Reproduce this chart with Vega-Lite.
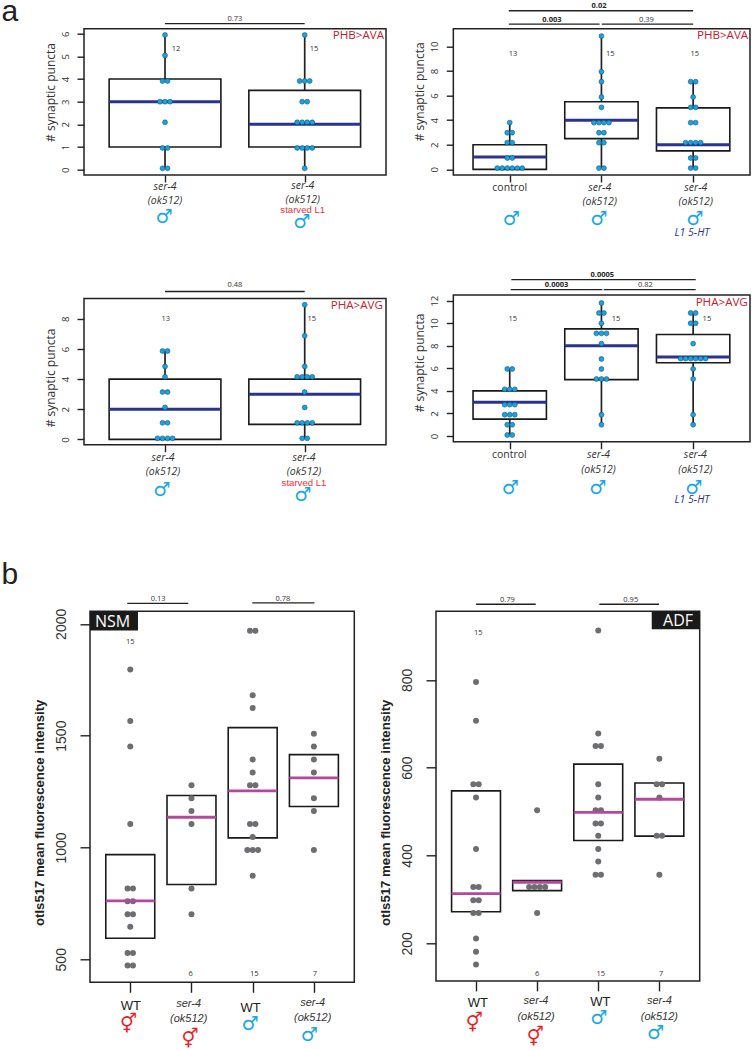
{"$schema":"https://vega.github.io/schema/vega-lite/v6.json","autosize":{"type":"none"},"padding":{"left":84,"top":28.7,"right":670,"bottom":1021.3},"bounds":"flush","align":"each","columns":2,"spacing":{"row":119.3,"column":50},
"config":{"view":{"stroke":null},"axis":{"grid":false,"domain":false,"tickColor":"#222222","tickWidth":1.4,"labelColor":"#333333","titleColor":"#333333"},"axisX":{"labels":false,"title":null},"axisY":{"labelAngle":-90},
"style":{"whisk":{"strokeWidth":1.7},"medA":{"strokeWidth":3},"medB":{"strokeWidth":2.8},"brk":{"strokeWidth":1.3},"cnt":{"font":"Open Sans","fontSize":7.5,"align":"center","baseline":"middle"},"pb":{"font":"Open Sans","fontSize":7.5,"fontWeight":"bold","align":"center","baseline":"middle"},"tag":{"font":"Open Sans","fontSize":11.6,"align":"right","baseline":"middle"},"ita":{"font":"Open Sans","fontSize":10.5,"fontStyle":"italic","align":"center","baseline":"middle"},"upr":{"font":"Open Sans","fontSize":10.5,"align":"center","baseline":"middle"},"male":{"font":"DejaVu Sans","fontSize":19,"align":"center","baseline":"middle"},"stv":{"font":"Liberation Sans","fontSize":9.6,"align":"center","baseline":"middle"},"let":{"font":"Liberation Sans","fontSize":30,"align":"center","baseline":"alphabetic"},"wt":{"font":"Liberation Sans","fontSize":13,"align":"center","baseline":"middle"},"itb":{"font":"Liberation Sans","fontSize":11,"fontStyle":"italic","align":"center","baseline":"middle"},"wht":{"font":"Open Sans","fontSize":16,"align":"center","baseline":"middle"}}},
"concat":[
{"width":302,"height":146.3,"encoding":{"x":{"field":"x","type":"quantitative","scale":{"domain":[0.42,2.582],"nice":false,"zero":false},"axis":{"values":[1,2],"tickSize":7}},"y":{"field":"y","type":"quantitative","scale":{"domain":[-0.234,6.22],"nice":false,"zero":false},"axis":{"values":[0,1,2,3,4,5,6],"tickSize":7,"labelFont":"Open Sans","labelFontSize":9.5,"labelPadding":7,"title":"# synaptic puncta","titleFont":"Open Sans","titleFontSize":12,"titleFontWeight":"normal","titleY":63.3,"titlePadding":3}}},
"layer":[
{"data":{"values":[{"x":0.42,"x2":2.582,"y":-0.234,"y2":6.22}]},"mark":{"type":"rect","fill":"transparent","stroke":"#222222","strokeWidth":1.5},"encoding":{"x2":{"field":"x2"},"y2":{"field":"y2"}}},
{"data":{"values":[{"x":1,"y":4,"y2":5.94},{"x":1,"y":1,"y2":0.06},{"x":2,"y":3.5,"y2":5.94},{"x":2,"y":1,"y2":0.06}]},"mark":{"type":"rule","style":"whisk","color":"#222222"},"encoding":{"y2":{"field":"y2"}}},
{"data":{"values":[{"x":0.6,"x2":1.4,"y":1,"y2":4},{"x":1.6,"x2":2.4,"y":1,"y2":3.5}]},"mark":{"type":"rect","fill":"transparent","stroke":"#1a1a1a","strokeWidth":1.6},"encoding":{"x2":{"field":"x2"},"y2":{"field":"y2"}}},
{"data":{"values":[{"x":0.6,"x2":1.4,"y":3},{"x":1.6,"x2":2.4,"y":2}]},"mark":{"type":"rule","style":"medA","color":"#2b3390"},"encoding":{"x2":{"field":"x2"}}},
{"data":{"values":[{"x":1,"y":5.94},{"x":1,"y":5.04},{"x":0.982,"y":3.91},{"x":1.018,"y":3.91},{"x":0.964,"y":3},{"x":1,"y":3},{"x":1.036,"y":3},{"x":1,"y":2.09},{"x":0.982,"y":0.96},{"x":1.018,"y":0.96},{"x":0.982,"y":0.06},{"x":1.018,"y":0.06},{"x":2,"y":5.94},{"x":1.964,"y":3.91},{"x":2,"y":3.91},{"x":2.036,"y":3.91},{"x":1.982,"y":3},{"x":2.018,"y":3},{"x":1.946,"y":2.09},{"x":1.982,"y":2.09},{"x":2.018,"y":2.09},{"x":2.054,"y":2.09},{"x":1.946,"y":0.96},{"x":1.982,"y":0.96},{"x":2.018,"y":0.96},{"x":2.054,"y":0.96},{"x":2,"y":0.06}]},"mark":{"type":"point","filled":true,"fill":"#14a5e2","stroke":"#1d4f70","strokeWidth":0.6,"opacity":1,"size":24}},
{"data":{"values":[{"x":1,"x2":2,"y":6.44}]},"mark":{"type":"rule","style":"brk","color":"#222222"},"encoding":{"x2":{"field":"x2"}}},
{"data":{"values":[{"x":1.5,"y":6.65,"t":"0.73"},{"x":1.079,"y":5.31,"t":"12"},{"x":2.067,"y":5.31,"t":"15"}]},"mark":{"type":"text","style":"cnt","color":"#333333"},"encoding":{"text":{"field":"t"}}},
{"data":{"values":[{"x":2.568,"y":5.9,"t":"PHB>AVA"}]},"mark":{"type":"text","style":"tag","color":"#c8202f"},"encoding":{"text":{"field":"t"}}},
{"data":{"values":[{"x":1,"y":-0.75,"t":"ser-4"},{"x":1,"y":-1.39,"t":"(ok512)"},{"x":1.986,"y":-0.72,"t":"ser-4"},{"x":1.986,"y":-1.34,"t":"(ok512)"}]},"mark":{"type":"text","style":"ita","color":"#333333"},"encoding":{"text":{"field":"t"}}},
{"data":{"values":[{"x":1.986,"y":-1.78,"t":"starved L1"}]},"mark":{"type":"text","style":"stv","color":"#f0323c"},"encoding":{"text":{"field":"t"}}},
{"data":{"values":[{"x":0.993,"y":-2.09,"t":"♂"},{"x":1.979,"y":-2.32,"t":"♂"}]},"mark":{"type":"text","style":"male","color":"#17a8e3"},"encoding":{"text":{"field":"t"}}},
{"data":{"values":[{"x":-0.11,"y":6.56,"t":"a"}]},"mark":{"type":"text","style":"let","color":"#222222"},"encoding":{"text":{"field":"t"}}}
]},
{"width":314,"height":146.3,"encoding":{"x":{"field":"x","type":"quantitative","scale":{"domain":[0.196,3.62],"nice":false,"zero":false},"axis":{"values":[1,2,3],"tickSize":7}},"y":{"field":"y","type":"quantitative","scale":{"domain":[-0.46,11.44],"nice":false,"zero":false},"axis":{"values":[0,2,4,6,8,10],"offset":-17.3,"tickSize":7,"labelFont":"Open Sans","labelFontSize":9.5,"labelPadding":7,"title":"# synaptic puncta","titleFont":"Open Sans","titleFontSize":12,"titleFontWeight":"normal","titleY":62.6,"titlePadding":3}}},
"layer":[
{"data":{"values":[{"x":0.385,"x2":3.62,"y":-0.46,"y2":11.44}]},"mark":{"type":"rect","fill":"transparent","stroke":"#222222","strokeWidth":1.5},"encoding":{"x2":{"field":"x2"},"y2":{"field":"y2"}}},
{"data":{"values":[{"x":1,"y":2,"y2":3.8},{"x":2,"y":5.5,"y2":10.84},{"x":2,"y":2.5,"y2":0.1},{"x":3,"y":5,"y2":7.13},{"x":3,"y":1.5,"y2":0.1}]},"mark":{"type":"rule","style":"whisk","color":"#222222"},"encoding":{"y2":{"field":"y2"}}},
{"data":{"values":[{"x":0.6,"x2":1.4,"y":0,"y2":2},{"x":1.6,"x2":2.4,"y":2.5,"y2":5.5},{"x":2.6,"x2":3.4,"y":1.5,"y2":5}]},"mark":{"type":"rect","fill":"transparent","stroke":"#1a1a1a","strokeWidth":1.6},"encoding":{"x2":{"field":"x2"},"y2":{"field":"y2"}}},
{"data":{"values":[{"x":0.6,"x2":1.4,"y":1},{"x":1.6,"x2":2.4,"y":4},{"x":2.6,"x2":3.4,"y":2}]},"mark":{"type":"rule","style":"medA","color":"#2b3390"},"encoding":{"x2":{"field":"x2"}}},
{"data":{"values":[{"x":1,"y":3.8},{"x":0.973,"y":2.98},{"x":1.027,"y":2.98},{"x":0.973,"y":2.17},{"x":1.027,"y":2.17},{"x":0.973,"y":0.92},{"x":1.027,"y":0.92},{"x":0.864,"y":0.1},{"x":0.918,"y":0.1},{"x":0.973,"y":0.1},{"x":1.027,"y":0.1},{"x":1.082,"y":0.1},{"x":1.136,"y":0.1},{"x":2,"y":10.84},{"x":2,"y":7.94},{"x":2,"y":7.13},{"x":2,"y":5.88},{"x":2,"y":5.04},{"x":1.918,"y":3.8},{"x":1.973,"y":3.8},{"x":2.027,"y":3.8},{"x":2.082,"y":3.8},{"x":1.973,"y":2.98},{"x":2.027,"y":2.98},{"x":1.973,"y":2.17},{"x":2.027,"y":2.17},{"x":1.973,"y":0.1},{"x":2.027,"y":0.1},{"x":2.973,"y":7.13},{"x":3.027,"y":7.13},{"x":3,"y":5.88},{"x":2.973,"y":5.04},{"x":3.027,"y":5.04},{"x":2.973,"y":3.8},{"x":3.027,"y":3.8},{"x":2.918,"y":2.17},{"x":2.973,"y":2.17},{"x":3.027,"y":2.17},{"x":3.082,"y":2.17},{"x":2.973,"y":0.92},{"x":3.027,"y":0.92},{"x":2.973,"y":0.1},{"x":3.027,"y":0.1}]},"mark":{"type":"point","filled":true,"fill":"#14a5e2","stroke":"#1d4f70","strokeWidth":0.6,"opacity":1,"size":24}},
{"data":{"values":[{"x":0.99,"x2":3,"y":12.9},{"x":0.99,"x2":1.98,"y":11.82},{"x":2.004,"x2":3,"y":11.82}]},"mark":{"type":"rule","style":"brk","color":"#222222"},"encoding":{"x2":{"field":"x2"}}},
{"data":{"values":[{"x":2.49,"y":12.14,"t":"0.39"},{"x":1.036,"y":9.35,"t":"13"},{"x":2.097,"y":9.35,"t":"15"},{"x":3.018,"y":9.35,"t":"15"}]},"mark":{"type":"text","style":"cnt","color":"#333333"},"encoding":{"text":{"field":"t"}}},
{"data":{"values":[{"x":1.974,"y":13.28,"t":"0.02"},{"x":1.46,"y":12.14,"t":"0.003"}]},"mark":{"type":"text","style":"pb","color":"#222222"},"encoding":{"text":{"field":"t"}}},
{"data":{"values":[{"x":3.6,"y":10.84,"t":"PHB>AVA"}]},"mark":{"type":"text","style":"tag","color":"#c8202f"},"encoding":{"text":{"field":"t"}}},
{"data":{"values":[{"x":1,"y":-1.54,"t":"control"}]},"mark":{"type":"text","style":"upr","color":"#333333"},"encoding":{"text":{"field":"t"}}},
{"data":{"values":[{"x":1.981,"y":-1.54,"t":"ser-4"},{"x":1.981,"y":-2.68,"t":"(ok512)"},{"x":3.028,"y":-1.54,"t":"ser-4"},{"x":3.028,"y":-2.68,"t":"(ok512)"}]},"mark":{"type":"text","style":"ita","color":"#333333"},"encoding":{"text":{"field":"t"}}},
{"data":{"values":[{"x":2.988,"y":-5.15,"t":"L1 5-HT"}]},"mark":{"type":"text","style":"ita","color":"#2e3192"},"encoding":{"text":{"field":"t"}}},
{"data":{"values":[{"x":1.017,"y":-4.07,"t":"♂"},{"x":1.97,"y":-4.07,"t":"♂"},{"x":3.018,"y":-4.07,"t":"♂"}]},"mark":{"type":"text","style":"male","color":"#17a8e3"},"encoding":{"text":{"field":"t"}}}
]},
{"width":302,"height":149.7,"encoding":{"x":{"field":"x","type":"quantitative","scale":{"domain":[0.42,2.582],"nice":false,"zero":false},"axis":{"values":[1,2],"tickSize":7}},"y":{"field":"y","type":"quantitative","scale":{"domain":[-0.35,9.577],"nice":false,"zero":false},"axis":{"values":[0,2,4,6,8],"tickSize":7,"labelFont":"Open Sans","labelFontSize":9.5,"labelPadding":7,"title":"# synaptic puncta","titleFont":"Open Sans","titleFontSize":12,"titleFontWeight":"normal","titleY":82.4,"titlePadding":3}}},
"layer":[
{"data":{"values":[{"x":0.42,"x2":2.582,"y":-0.35,"y2":9.35}]},"mark":{"type":"rect","fill":"transparent","stroke":"#222222","strokeWidth":1.5},"encoding":{"x2":{"field":"x2"},"y2":{"field":"y2"}}},
{"data":{"values":[{"x":1,"y":4,"y2":5.86},{"x":2,"y":4,"y2":8.93},{"x":2,"y":1,"y2":0.07}]},"mark":{"type":"rule","style":"whisk","color":"#222222"},"encoding":{"y2":{"field":"y2"}}},
{"data":{"values":[{"x":0.6,"x2":1.4,"y":0,"y2":4},{"x":1.6,"x2":2.4,"y":1,"y2":4}]},"mark":{"type":"rect","fill":"transparent","stroke":"#1a1a1a","strokeWidth":1.6},"encoding":{"x2":{"field":"x2"},"y2":{"field":"y2"}}},
{"data":{"values":[{"x":0.6,"x2":1.4,"y":2},{"x":1.6,"x2":2.4,"y":3}]},"mark":{"type":"rule","style":"medA","color":"#2b3390"},"encoding":{"x2":{"field":"x2"}}},
{"data":{"values":[{"x":0.982,"y":5.86},{"x":1.018,"y":5.86},{"x":1,"y":4.84},{"x":1,"y":4.15},{"x":0.982,"y":3.14},{"x":1.018,"y":3.14},{"x":1,"y":2.12},{"x":0.982,"y":1.1},{"x":1.018,"y":1.1},{"x":0.946,"y":0.07},{"x":0.982,"y":0.07},{"x":1.018,"y":0.07},{"x":1.054,"y":0.07},{"x":2,"y":8.93},{"x":2,"y":6.87},{"x":2,"y":4.84},{"x":1.946,"y":4.15},{"x":1.982,"y":4.15},{"x":2.018,"y":4.15},{"x":2.054,"y":4.15},{"x":2,"y":3.14},{"x":2,"y":2.12},{"x":1.946,"y":1.1},{"x":1.982,"y":1.1},{"x":2.018,"y":1.1},{"x":2.054,"y":1.1},{"x":1.982,"y":0.07},{"x":2.018,"y":0.07}]},"mark":{"type":"point","filled":true,"fill":"#14a5e2","stroke":"#1d4f70","strokeWidth":0.6,"opacity":1,"size":24}},
{"data":{"values":[{"x":1,"x2":2,"y":9.81}]},"mark":{"type":"rule","style":"brk","color":"#222222"},"encoding":{"x2":{"field":"x2"}}},
{"data":{"values":[{"x":1.5,"y":10.21,"t":"0.48"},{"x":1.005,"y":8,"t":"13"},{"x":2.05,"y":8,"t":"15"}]},"mark":{"type":"text","style":"cnt","color":"#333333"},"encoding":{"text":{"field":"t"}}},
{"data":{"values":[{"x":2.56,"y":8.84,"t":"PHA>AVG"}]},"mark":{"type":"text","style":"tag","color":"#c8202f"},"encoding":{"text":{"field":"t"}}},
{"data":{"values":[{"x":0.986,"y":-1.23,"t":"ser-4"},{"x":0.986,"y":-2.19,"t":"(ok512)"},{"x":1.995,"y":-1.23,"t":"ser-4"},{"x":1.995,"y":-2.19,"t":"(ok512)"}]},"mark":{"type":"text","style":"ita","color":"#333333"},"encoding":{"text":{"field":"t"}}},
{"data":{"values":[{"x":1.995,"y":-2.87,"t":"starved L1"}]},"mark":{"type":"text","style":"stv","color":"#f0323c"},"encoding":{"text":{"field":"t"}}},
{"data":{"values":[{"x":0.976,"y":-3.34,"t":"♂"},{"x":1.986,"y":-3.67,"t":"♂"}]},"mark":{"type":"text","style":"male","color":"#17a8e3"},"encoding":{"text":{"field":"t"}}}
]},
{"width":314,"height":196.1,"encoding":{"x":{"field":"x","type":"quantitative","scale":{"domain":[0.196,3.62],"nice":false,"zero":false},"axis":{"values":[1,2,3],"tickSize":7,"offset":-49.4}},"y":{"field":"y","type":"quantitative","scale":{"domain":[-4.88,12.5],"nice":false,"zero":false},"axis":{"values":[0,2,4,6,8,10,12],"offset":-17.3,"tickSize":7,"labelFont":"Open Sans","labelFontSize":9.5,"labelPadding":7,"title":"# synaptic puncta","titleFont":"Open Sans","titleFontSize":12,"titleFontWeight":"normal","titleY":67.4,"titlePadding":3}}},
"layer":[
{"data":{"values":[{"x":0.385,"x2":3.62,"y":-0.5,"y2":12.5}]},"mark":{"type":"rect","fill":"transparent","stroke":"#222222","strokeWidth":1.5},"encoding":{"x2":{"field":"x2"},"y2":{"field":"y2"}}},
{"data":{"values":[{"x":1,"y":4,"y2":5.94},{"x":1,"y":1.5,"y2":0.09},{"x":2,"y":9.5,"y2":11.79},{"x":2,"y":5,"y2":1},{"x":3,"y":9,"y2":10.9},{"x":3,"y":6.5,"y2":1}]},"mark":{"type":"rule","style":"whisk","color":"#222222"},"encoding":{"y2":{"field":"y2"}}},
{"data":{"values":[{"x":0.6,"x2":1.4,"y":1.5,"y2":4},{"x":1.6,"x2":2.4,"y":5,"y2":9.5},{"x":2.6,"x2":3.4,"y":6.5,"y2":9}]},"mark":{"type":"rect","fill":"transparent","stroke":"#1a1a1a","strokeWidth":1.6},"encoding":{"x2":{"field":"x2"},"y2":{"field":"y2"}}},
{"data":{"values":[{"x":0.6,"x2":1.4,"y":3},{"x":1.6,"x2":2.4,"y":8},{"x":2.6,"x2":3.4,"y":7}]},"mark":{"type":"rule","style":"medA","color":"#2b3390"},"encoding":{"x2":{"field":"x2"}}},
{"data":{"values":[{"x":0.973,"y":5.94},{"x":1.027,"y":5.94},{"x":0.945,"y":4.14},{"x":1,"y":4.14},{"x":1.055,"y":4.14},{"x":0.945,"y":2.78},{"x":1,"y":2.78},{"x":1.055,"y":2.78},{"x":0.945,"y":1.89},{"x":1,"y":1.89},{"x":1.055,"y":1.89},{"x":0.973,"y":1},{"x":1.027,"y":1},{"x":0.973,"y":0.09},{"x":1.027,"y":0.09},{"x":2,"y":11.79},{"x":1.973,"y":10.9},{"x":2.027,"y":10.9},{"x":2,"y":9.99},{"x":1.945,"y":9.1},{"x":2,"y":9.1},{"x":2.055,"y":9.1},{"x":2,"y":8.19},{"x":2,"y":6.83},{"x":2,"y":5.94},{"x":1.945,"y":5.05},{"x":2,"y":5.05},{"x":2.055,"y":5.05},{"x":2,"y":1.89},{"x":2,"y":1},{"x":2.973,"y":10.9},{"x":3.027,"y":10.9},{"x":2.973,"y":9.99},{"x":3.027,"y":9.99},{"x":3,"y":8.19},{"x":2.864,"y":6.86},{"x":2.918,"y":6.86},{"x":2.973,"y":6.86},{"x":3.027,"y":6.86},{"x":3.082,"y":6.86},{"x":3.136,"y":6.86},{"x":3,"y":5.94},{"x":3,"y":5.05},{"x":3,"y":1.89},{"x":3,"y":1}]},"mark":{"type":"point","filled":true,"fill":"#14a5e2","stroke":"#1d4f70","strokeWidth":0.6,"opacity":1,"size":24}},
{"data":{"values":[{"x":1.017,"x2":3.028,"y":13.86},{"x":1.01,"x2":2.01,"y":12.98},{"x":2.025,"x2":3.028,"y":12.98}]},"mark":{"type":"rule","style":"brk","color":"#222222"},"encoding":{"x2":{"field":"x2"}}},
{"data":{"values":[{"x":2.48,"y":13.39,"t":"0.82"},{"x":1.033,"y":10.4,"t":"15"},{"x":2.16,"y":10.4,"t":"15"},{"x":3.15,"y":10.4,"t":"15"}]},"mark":{"type":"text","style":"cnt","color":"#333333"},"encoding":{"text":{"field":"t"}}},
{"data":{"values":[{"x":2.01,"y":14.28,"t":"0.0005"},{"x":1.51,"y":13.39,"t":"0.0003"}]},"mark":{"type":"text","style":"pb","color":"#222222"},"encoding":{"text":{"field":"t"}}},
{"data":{"values":[{"x":3.596,"y":11.82,"t":"PHA>AVG"}]},"mark":{"type":"text","style":"tag","color":"#c8202f"},"encoding":{"text":{"field":"t"}}},
{"data":{"values":[{"x":0.996,"y":-1.68,"t":"control"}]},"mark":{"type":"text","style":"upr","color":"#333333"},"encoding":{"text":{"field":"t"}}},
{"data":{"values":[{"x":1.968,"y":-1.68,"t":"ser-4"},{"x":1.968,"y":-3.02,"t":"(ok512)"},{"x":3.024,"y":-1.68,"t":"ser-4"},{"x":3.024,"y":-3.02,"t":"(ok512)"}]},"mark":{"type":"text","style":"ita","color":"#333333"},"encoding":{"text":{"field":"t"}}},
{"data":{"values":[{"x":2.988,"y":-5.68,"t":"L1 5-HT"}]},"mark":{"type":"text","style":"ita","color":"#2e3192"},"encoding":{"text":{"field":"t"}}},
{"data":{"values":[{"x":1.007,"y":-4.61,"t":"♂"},{"x":1.96,"y":-4.61,"t":"♂"},{"x":3.007,"y":-4.61,"t":"♂"}]},"mark":{"type":"text","style":"male","color":"#17a8e3"},"encoding":{"text":{"field":"t"}}}
]},
{"width":270.3,"height":371,"encoding":{"x":{"field":"x","type":"quantitative","scale":{"domain":[0.244,4.66],"nice":false,"zero":false},"axis":{"values":[1,2,3,4],"tickSize":10}},"y":{"field":"y","type":"quantitative","scale":{"domain":[397,2056],"nice":false,"zero":false},"axis":{"values":[500,1000,1500,2000],"format":"d","offset":-6,"tickSize":10,"labelFont":"Liberation Sans","labelFontSize":14,"labelPadding":12,"title":"otIs517 mean fluorescence intensity","titleFont":"Liberation Sans","titleFontSize":13.2,"titleFontWeight":"bold","titleColor":"#222222","titleY":201,"titlePadding":8}}},
"layer":[
{"data":{"values":[{"x":0.342,"x2":4.66,"y":397,"y2":2056}]},"mark":{"type":"rect","fill":"transparent","stroke":"#222222","strokeWidth":1.5},"encoding":{"x2":{"field":"x2"},"y2":{"field":"y2"}}},
{"data":{"values":[{"x":0.342,"x2":1.126,"y":1970,"y2":2056}]},"mark":{"type":"rect","color":"#1a1a1a"},"encoding":{"x2":{"field":"x2"},"y2":{"field":"y2"}}},
{"data":{"values":[{"x":0.6,"x2":1.4,"y":594,"y2":968},{"x":1.6,"x2":2.4,"y":834,"y2":1232},{"x":2.6,"x2":3.4,"y":1043,"y2":1536},{"x":3.6,"x2":4.4,"y":1183,"y2":1415}]},"mark":{"type":"rect","fill":"transparent","stroke":"#1a1a1a","strokeWidth":1.6},"encoding":{"x2":{"field":"x2"},"y2":{"field":"y2"}}},
{"data":{"values":[{"x":1,"y":1796},{"x":1,"y":1566},{"x":1,"y":1451},{"x":1,"y":1105},{"x":0.956,"y":816},{"x":1.044,"y":816},{"x":0.956,"y":759},{"x":1.044,"y":759},{"x":0.956,"y":701},{"x":1.044,"y":701},{"x":1,"y":645},{"x":0.956,"y":528},{"x":1.044,"y":528},{"x":0.956,"y":472},{"x":1.044,"y":472},{"x":2,"y":1278},{"x":2,"y":1220},{"x":2,"y":1163},{"x":2,"y":1105},{"x":2,"y":816},{"x":2,"y":701},{"x":2.956,"y":1969},{"x":3.044,"y":1969},{"x":3,"y":1681},{"x":3,"y":1624},{"x":3,"y":1393},{"x":3,"y":1335},{"x":2.956,"y":1278},{"x":3.044,"y":1278},{"x":2.956,"y":1105},{"x":3.044,"y":1105},{"x":3,"y":1047},{"x":2.913,"y":989},{"x":3,"y":989},{"x":3.087,"y":989},{"x":3,"y":874},{"x":4,"y":1508},{"x":4,"y":1451},{"x":4,"y":1393},{"x":4,"y":1335},{"x":4,"y":1220},{"x":4,"y":1163},{"x":4,"y":989}]},"mark":{"type":"point","filled":true,"fill":"#6d6e71","opacity":1,"size":36}},
{"data":{"values":[{"x":0.6,"x2":1.4,"y":761},{"x":1.6,"x2":2.4,"y":1135},{"x":2.6,"x2":3.4,"y":1253},{"x":3.6,"x2":4.4,"y":1311}]},"mark":{"type":"rule","style":"medB","color":"#b5489b"},"encoding":{"x2":{"field":"x2"}}},
{"data":{"values":[{"x":0.951,"x2":1.948,"y":2091},{"x":2.993,"x2":4.007,"y":2094}]},"mark":{"type":"rule","style":"brk","color":"#222222"},"encoding":{"x2":{"field":"x2"}}},
{"data":{"values":[{"x":1.457,"y":2113,"t":"0.13"},{"x":3.495,"y":2113,"t":"0.78"},{"x":1,"y":1918,"t":"15"},{"x":1.987,"y":434,"t":"6"},{"x":3.026,"y":434,"t":"15"},{"x":4.018,"y":434,"t":"7"}]},"mark":{"type":"text","style":"cnt","color":"#333333"},"encoding":{"text":{"field":"t"}}},
{"data":{"values":[{"x":0.712,"y":2006,"t":"NSM"}]},"mark":{"type":"text","style":"wht","color":"#ffffff"},"encoding":{"text":{"field":"t"}}},
{"data":{"values":[{"x":1.011,"y":293,"t":"WT"},{"x":2.967,"y":281,"t":"WT"}]},"mark":{"type":"text","style":"wt","color":"#222222"},"encoding":{"text":{"field":"t"}}},
{"data":{"values":[{"x":1.954,"y":299,"t":"ser-4"},{"x":1.954,"y":233,"t":"(ok512)"},{"x":3.98,"y":303,"t":"ser-4"},{"x":3.98,"y":236,"t":"(ok512)"}]},"mark":{"type":"text","style":"itb","color":"#333333"},"encoding":{"text":{"field":"t"}}},
{"data":{"values":[{"x":0.974,"y":209,"t":"⚥"},{"x":1.975,"y":144,"t":"⚥"}]},"mark":{"type":"text","style":"male","color":"#ee1c25"},"encoding":{"text":{"field":"t"}}},
{"data":{"values":[{"x":2.956,"y":209,"t":"♂"},{"x":3.925,"y":162,"t":"♂"}]},"mark":{"type":"text","style":"male","color":"#17a8e3"},"encoding":{"text":{"field":"t"}}},
{"data":{"values":[{"x":-0.966,"y":2180,"t":"b"}]},"mark":{"type":"text","style":"let","color":"#222222"},"encoding":{"text":{"field":"t"}}}
]},
{"width":263.7,"height":369.6,"encoding":{"x":{"field":"x","type":"quantitative","scale":{"domain":[0.345,4.66],"nice":false,"zero":false},"axis":{"values":[1,2,3,4],"tickSize":10}},"y":{"field":"y","type":"quantitative","scale":{"domain":[114.4,956],"nice":false,"zero":false},"axis":{"values":[200,400,600,800],"format":"d","tickSize":10,"labelFont":"Liberation Sans","labelFontSize":14,"labelPadding":12,"title":"otIs517 mean fluorescence intensity","titleFont":"Liberation Sans","titleFontSize":13.2,"titleFontWeight":"bold","titleColor":"#222222","titleY":201,"titlePadding":8}}},
"layer":[
{"data":{"values":[{"x":0.345,"x2":4.66,"y":114.4,"y2":956}]},"mark":{"type":"rect","fill":"transparent","stroke":"#222222","strokeWidth":1.5},"encoding":{"x2":{"field":"x2"},"y2":{"field":"y2"}}},
{"data":{"values":[{"x":3.875,"x2":4.66,"y":915,"y2":956}]},"mark":{"type":"rect","color":"#1a1a1a"},"encoding":{"x2":{"field":"x2"},"y2":{"field":"y2"}}},
{"data":{"values":[{"x":0.6,"x2":1.4,"y":272,"y2":547},{"x":1.6,"x2":2.4,"y":320,"y2":343},{"x":2.6,"x2":3.4,"y":434,"y2":608},{"x":3.6,"x2":4.4,"y":444,"y2":565}]},"mark":{"type":"rect","fill":"transparent","stroke":"#1a1a1a","strokeWidth":1.6},"encoding":{"x2":{"field":"x2"},"y2":{"field":"y2"}}},
{"data":{"values":[{"x":1,"y":795},{"x":1,"y":707},{"x":0.956,"y":562},{"x":1.044,"y":562},{"x":1,"y":532},{"x":1,"y":415},{"x":0.956,"y":328},{"x":1.044,"y":328},{"x":0.956,"y":298},{"x":1.044,"y":298},{"x":0.956,"y":269},{"x":1.044,"y":269},{"x":1,"y":211},{"x":1,"y":181},{"x":1,"y":152},{"x":2,"y":503},{"x":1.869,"y":328},{"x":1.956,"y":328},{"x":2.044,"y":328},{"x":2.131,"y":328},{"x":2,"y":269},{"x":3,"y":912},{"x":3,"y":678},{"x":2.956,"y":649},{"x":3.044,"y":649},{"x":3,"y":562},{"x":3,"y":532},{"x":2.956,"y":503},{"x":3.044,"y":503},{"x":2.956,"y":473},{"x":3.044,"y":473},{"x":3,"y":445},{"x":3,"y":415},{"x":3,"y":386},{"x":2.956,"y":356},{"x":3.044,"y":356},{"x":4,"y":620},{"x":3.956,"y":562},{"x":4.044,"y":562},{"x":4,"y":532},{"x":3.956,"y":445},{"x":4.044,"y":445},{"x":4,"y":356}]},"mark":{"type":"point","filled":true,"fill":"#6d6e71","opacity":1,"size":36}},
{"data":{"values":[{"x":0.6,"x2":1.4,"y":313},{"x":1.6,"x2":2.4,"y":339},{"x":2.6,"x2":3.4,"y":498},{"x":3.6,"x2":4.4,"y":528}]},"mark":{"type":"rule","style":"medB","color":"#b5489b"},"encoding":{"x2":{"field":"x2"}}},
{"data":{"values":[{"x":1,"x2":1.977,"y":972},{"x":3.018,"x2":3.995,"y":972}]},"mark":{"type":"rule","style":"brk","color":"#222222"},"encoding":{"x2":{"field":"x2"}}},
{"data":{"values":[{"x":1.512,"y":982,"t":"0.79"},{"x":3.532,"y":982,"t":"0.95"},{"x":1.038,"y":906,"t":"15"},{"x":1.998,"y":130,"t":"6"},{"x":3.041,"y":130,"t":"15"},{"x":4.028,"y":130,"t":"7"}]},"mark":{"type":"text","style":"cnt","color":"#333333"},"encoding":{"text":{"field":"t"}}},
{"data":{"values":[{"x":4.306,"y":935,"t":"ADF"}]},"mark":{"type":"text","style":"wht","color":"#ffffff"},"encoding":{"text":{"field":"t"}}},
{"data":{"values":[{"x":1.028,"y":63,"t":"WT"},{"x":3.034,"y":66,"t":"WT"}]},"mark":{"type":"text","style":"wt","color":"#222222"},"encoding":{"text":{"field":"t"}}},
{"data":{"values":[{"x":1.982,"y":68,"t":"ser-4"},{"x":1.982,"y":33,"t":"(ok512)"},{"x":4,"y":68,"t":"ser-4"},{"x":4,"y":33,"t":"(ok512)"}]},"mark":{"type":"text","style":"itb","color":"#333333"},"encoding":{"text":{"field":"t"}}},
{"data":{"values":[{"x":0.972,"y":18,"t":"⚥"},{"x":1.971,"y":-13,"t":"⚥"}]},"mark":{"type":"text","style":"male","color":"#ee1c25"},"encoding":{"text":{"field":"t"}}},
{"data":{"values":[{"x":3.008,"y":29,"t":"♂"},{"x":3.935,"y":-5,"t":"♂"}]},"mark":{"type":"text","style":"male","color":"#17a8e3"},"encoding":{"text":{"field":"t"}}}
]}
]}
